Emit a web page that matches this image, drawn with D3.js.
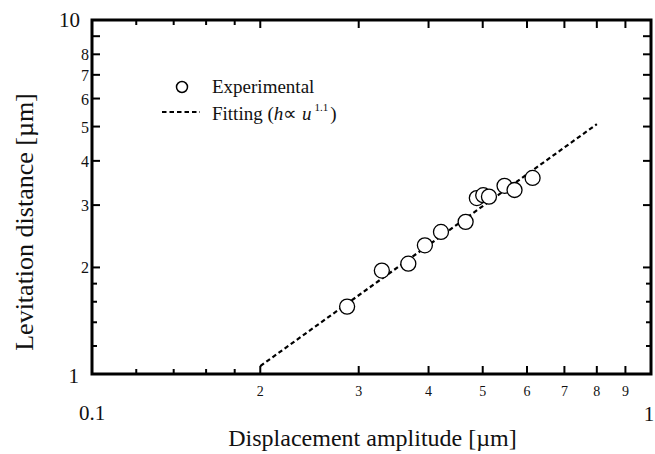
<!DOCTYPE html>
<html lang="en">
<head>
  <meta charset="UTF-8"/>
  <title>Levitation distance vs displacement amplitude</title>
  <script src="https://d3js.org/d3.v7.min.js"></script>
  <style>
    body { margin:0; background:#fff; }
    svg { display:block; font-family:"Liberation Serif","Times New Roman",serif; }
  </style>
</head>
<body>
  <svg width="655" height="454"></svg>
  <script>
    // measured points: displacement amplitude [um] vs levitation distance [um]
    const expX = [0.286, 0.330, 0.368, 0.394, 0.421, 0.466, 0.488, 0.501, 0.513, 0.547, 0.570, 0.614];
    const expY = [1.55, 1.96, 2.05, 2.31, 2.52, 2.69, 3.14, 3.20, 3.17, 3.40, 3.31, 3.58];
    // fitted line end points (h ∝ u^1.1)
    const fitX = [0.2, 0.8];
    const fitY = [1.053, 5.08];

    const xMajor = [0.2, 0.3, 0.4, 0.5, 0.6, 0.7, 0.8, 0.9];
    const xMinor = [0.12, 0.14, 0.16, 0.18];
    const xLabels = ['2', '3', '4', '5', '6', '7', '8', '9'];
    const yMajor = [2, 3, 4, 5, 6, 7, 8, 9];
    const yMinor = [1.2, 1.4, 1.6, 1.8];
    const yLabels = ['2', '3', '4', '5', '6', '7', '8', ''];

    const svg = d3.select('svg');
    const m = {left:92, right:4, top:20, bottom:80};
    const W = 655, H = 454;
    const x = d3.scaleLog().domain([0.1, 1]).range([m.left, W - m.right]);
    const y = d3.scaleLog().domain([1, 10]).range([H - m.bottom, m.top]);
    const x0 = x.range()[0], x1 = x.range()[1], y0 = y.range()[0], y1 = y.range()[1];

    const ticks = svg.append('g').attr('stroke', '#000').attr('stroke-width', 2);
    // x ticks, bottom and top, pointing inward
    function xTick(v, len){
      ticks.append('line').attr('x1', x(v)).attr('x2', x(v)).attr('y1', y0).attr('y2', y0 - len);
      ticks.append('line').attr('x1', x(v)).attr('x2', x(v)).attr('y1', y1).attr('y2', y1 + len);
    }
    function yTick(v, len){
      ticks.append('line').attr('y1', y(v)).attr('y2', y(v)).attr('x1', x0).attr('x2', x0 + len);
      ticks.append('line').attr('y1', y(v)).attr('y2', y(v)).attr('x1', x1).attr('x2', x1 - len);
    }
    xMajor.forEach(v => xTick(v, 8));
    xMinor.forEach(v => xTick(v, 5));
    yMajor.forEach(v => yTick(v, 8));
    yMinor.forEach(v => yTick(v, 5));

    // frame
    svg.append('rect')
      .attr('x', x0).attr('y', y1)
      .attr('width', x1 - x0).attr('height', y0 - y1)
      .attr('fill', 'none').attr('stroke', '#000').attr('stroke-width', 3);

    // tick labels
    const lab = svg.append('g').attr('fill', '#111');
    xMajor.forEach((v, i) => {
      lab.append('text').attr('x', x(v)).attr('y', y0 + 22)
        .attr('text-anchor', 'middle').attr('font-size', 14).text(xLabels[i]);
    });
    lab.append('text').attr('x', x(0.1)).attr('y', y0 + 46)
      .attr('text-anchor', 'middle').attr('font-size', 21).text('0.1');
    lab.append('text').attr('x', x(1) - 2).attr('y', y0 + 47)
      .attr('text-anchor', 'middle').attr('font-size', 21).text('1');
    yMajor.forEach((v, i) => {
      if(!yLabels[i]) return;
      lab.append('text').attr('x', x0 - 3).attr('y', y(v) + 6)
        .attr('text-anchor', 'end').attr('font-size', 16).text(yLabels[i]);
    });
    lab.append('text').attr('x', x0 - 13).attr('y', y(1) + 9)
      .attr('text-anchor', 'end').attr('font-size', 21).text('1');
    lab.append('text').attr('x', x0 - 12).attr('y', y(10) + 7)
      .attr('text-anchor', 'end').attr('font-size', 21).text('10');

    // axis titles
    svg.append('text')
      .attr('x', (x0 + x1) / 2 + 1).attr('y', 446)
      .attr('text-anchor', 'middle').attr('font-size', 24).attr('fill', '#111')
      .text('Displacement amplitude [µm]');
    svg.append('text')
      .attr('transform', `translate(33,${(y0 + y1) / 2 + 25}) rotate(-90)`)
      .attr('text-anchor', 'middle').attr('font-size', 26).attr('fill', '#111')
      .text('Levitation distance [µm]');

    // fitting line
    const line = d3.line().x(d => x(d[0])).y(d => y(d[1]));
    svg.append('path')
      .attr('d', line(d3.zip(fitX, fitY)))
      .attr('fill', 'none').attr('stroke', '#000')
      .attr('stroke-width', 2.2).attr('stroke-dasharray', '4.5,3');

    // experimental points
    svg.append('g').selectAll('circle')
      .data(d3.zip(expX, expY))
      .join('circle')
        .attr('cx', d => x(d[0])).attr('cy', d => y(d[1]))
        .attr('r', 7.5)
        .attr('fill', '#fff').attr('stroke', '#000').attr('stroke-width', 1.3);

    // legend
    const lg = svg.append('g').attr('font-size', 19).attr('fill', '#111');
    lg.append('circle').attr('cx', 182).attr('cy', 87).attr('r', 5.5)
      .attr('fill', '#fff').attr('stroke', '#000').attr('stroke-width', 1.5);
    lg.append('text').attr('x', 212).attr('y', 93).text('Experimental');
    lg.append('line').attr('x1', 162).attr('x2', 200).attr('y1', 112).attr('y2', 112)
      .attr('stroke', '#000').attr('stroke-width', 2.2).attr('stroke-dasharray', '4.5,3');
    const ft = lg.append('text').attr('x', 212).attr('y', 120);
    ft.append('tspan').text('Fitting (');
    ft.append('tspan').attr('font-style', 'italic').text('h');
    ft.append('tspan').text('∝ ');
    ft.append('tspan').attr('font-style', 'italic').text('u');
    ft.append('tspan').attr('font-size', 11).attr('dy', -9).attr('dx', 3).text('1.1');
    ft.append('tspan').attr('dy', 9).attr('dx', 2).text(')');
  </script>
</body>
</html>
